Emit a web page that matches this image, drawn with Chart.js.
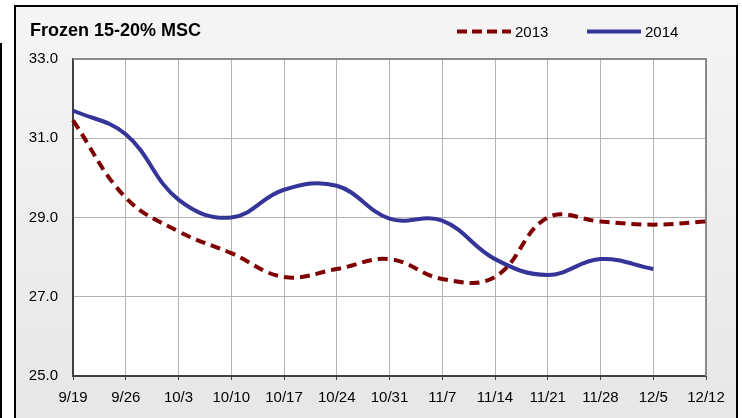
<!DOCTYPE html>
<html>
<head>
<meta charset="utf-8">
<title>Frozen 15-20% MSC</title>
<script src="https://cdn.jsdelivr.net/npm/chart.js@4.4.1/dist/chart.umd.min.js"></script>
<style>
    html, body { margin: 0; padding: 0; background: #fff; }
    #wrap { position: relative; width: 742px; height: 418px; overflow: hidden; }
    #sideLine { position: absolute; left: 0; top: 43px; width: 2px; height: 400px; background: #000; }
    #frame {
        position: absolute; left: 14px; top: 5px; width: 724px; height: 440px;
        box-sizing: border-box; border: 2px solid #000;
        background: linear-gradient(to bottom, #f5f5f5, #e6e6e6);
    }
    #chart { position: absolute; left: 0; top: 0; }
</style>
</head>
<body>
<div id="wrap">
    <div id="sideLine"></div>
    <div id="frame"></div>
    <canvas id="chart" width="742" height="418"></canvas>
</div>
<script>
// Chart data
const weeks = ['9/19', '9/26', '10/3', '10/10', '10/17', '10/24', '10/31', '11/7', '11/14', '11/21', '11/28', '12/5', '12/12'];
const values2013 = [31.45, 29.5, 28.65, 28.1, 27.5, 27.7, 27.95, 27.45, 27.5, 29.0, 28.9, 28.82, 28.9];
const values2014 = [31.7, 31.1, 29.45, 29.0, 29.7, 29.8, 28.97, 28.92, 27.95, 27.55, 27.95, 27.7];
const yTicks = [25, 27, 29, 31, 33];

const chartTitle = 'Frozen 15-20% MSC';
const fontFamily = '"Liberation Sans", Arial, sans-serif';
const red = '#7f0000';
const blue = '#353599';

// Plot background, top/right border, title and legend
const framePlugin = {
    id: 'framePlugin',
    beforeDraw(chart) {
        const a = chart.chartArea;
        const ctx = chart.ctx;
        ctx.save();
        ctx.fillStyle = '#ffffff';
        ctx.fillRect(a.left, a.top, a.right - a.left, a.bottom - a.top);
        ctx.restore();
    },
    beforeDatasetsDraw(chart) {
        const a = chart.chartArea;
        const ctx = chart.ctx;
        ctx.save();
        ctx.strokeStyle = '#8a8a8a';
        ctx.lineWidth = 2;
        ctx.beginPath();
        ctx.moveTo(a.left, a.top);
        ctx.lineTo(a.right, a.top);
        ctx.lineTo(a.right, a.bottom);
        ctx.stroke();
        ctx.restore();
    },
    afterDraw(chart) {
        const ctx = chart.ctx;
        ctx.save();
        ctx.fillStyle = '#000';
        ctx.textBaseline = 'alphabetic';
        ctx.font = 'bold 18px ' + fontFamily;
        ctx.fillText(chartTitle, 30, 36);

        // legend
        const items = [
            { label: '2013', color: red, dash: [10, 5], x: 457 },
            { label: '2014', color: blue, dash: [], x: 587 }
        ];
        items.forEach(item => {
            ctx.strokeStyle = item.color;
            ctx.lineWidth = 4;
            ctx.lineCap = 'butt';
            ctx.setLineDash(item.dash);
            ctx.beginPath();
            ctx.moveTo(item.x, 31.5);
            ctx.lineTo(item.x + 54, 31.5);
            ctx.stroke();
            ctx.setLineDash([]);
            ctx.font = '15px ' + fontFamily;
            ctx.fillText(item.label, item.x + 58, 37);
        });
        ctx.restore();
    }
};

new Chart(document.getElementById('chart'), {
    type: 'line',
    data: {
        labels: weeks,
        datasets: [{
            label: '2013',
            data: values2013,
            borderColor: red,
            borderWidth: 4,
            borderDash: [10, 6],
            pointRadius: 0,
            tension: 0.4,
            fill: false
        }, {
            label: '2014',
            data: values2014,
            borderColor: blue,
            borderWidth: 4,
            pointRadius: 0,
            tension: 0.4,
            fill: false
        }]
    },
    options: {
        responsive: false,
        animation: false,
        layout: {
            padding: { left: 0, right: 36, top: 59, bottom: 0 }
        },
        plugins: {
            legend: { display: false },
            title: { display: false },
            tooltip: { enabled: false }
        },
        scales: {
            x: {
                type: 'category',
                offset: false,
                grid: {
                    color: '#b3b3b3',
                    lineWidth: 1,
                    tickColor: '#404040',
                    tickLength: 4,
                    drawTicks: true
                },
                border: { color: '#404040', width: 2 },
                ticks: {
                    color: '#000',
                    font: { family: fontFamily, size: 15 },
                    padding: 9,
                    maxRotation: 0,
                    autoSkip: false
                },
                afterFit(scale) { scale.height = 42; }
            },
            y: {
                min: 25,
                max: 33,
                afterBuildTicks(scale) { scale.ticks = yTicks.map(v => ({ value: v })); },
                grid: {
                    color: '#b3b3b3',
                    lineWidth: 1,
                    drawTicks: false
                },
                border: { color: '#404040', width: 2 },
                ticks: {
                    color: '#000',
                    font: { family: fontFamily, size: 15 },
                    padding: 15,
                    callback: v => Number(v).toFixed(1)
                },
                afterFit(scale) { scale.width = 73; }
            }
        }
    },
    plugins: [framePlugin]
});
</script>
</body>
</html>
